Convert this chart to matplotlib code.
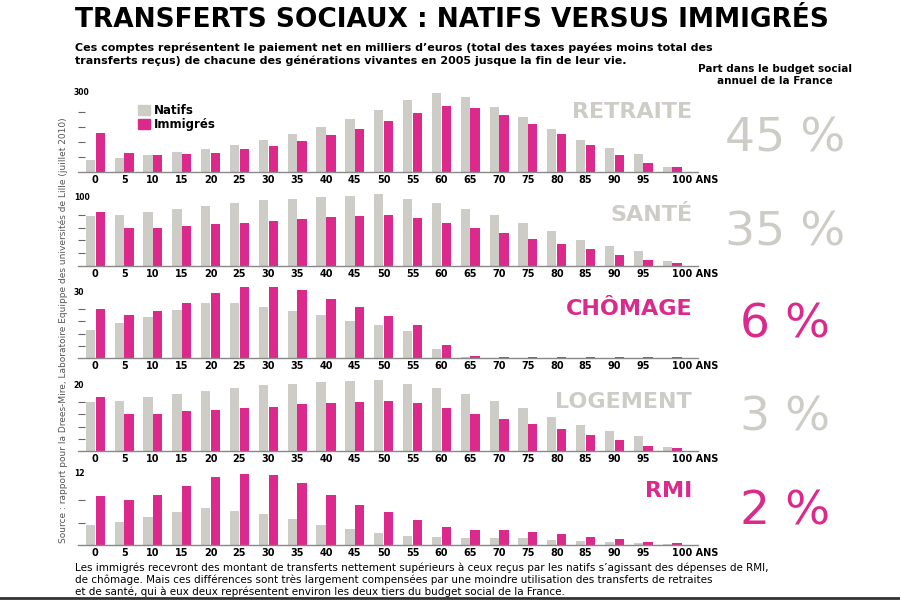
import matplotlib
matplotlib.use("Agg")
import matplotlib.pyplot as plt
from matplotlib.patches import Patch
import numpy as np

ages = [str(a) for a in range(0, 100, 5)] + ["100 ANS"]
panels = ["RETRAITE", "SANTÉ", "CHÔMAGE", "LOGEMENT", "RMI"]
top_labels = [300, 100, 30, 20, 12]
shares = ["45 %", "35 %", "6 %", "3 %", "2 %"]
label_pink = [False, False, True, False, True]

retraite_nat = [47,56,67,80,93,109,129,151,179,211,247,287,317,299,261,220,172,128,95,71,20]
retraite_imm = [155,75,69,72,76,91,105,124,147,172,203,235,265,257,229,192,152,109,69,36,20]
sante_nat = [78,79,84,89,94,98,103,105,108,110,112,105,98,89,79,67,54,41,32,24,8]
sante_imm = [84,59,59,62,65,67,70,73,76,78,79,75,67,59,51,42,35,26,17,9,5]
chom_nat = [14,17,20,23.5,27,27,25,23,21,18,16,13.5,4.4,0.6,0.2,0.2,0.2,0.2,0.2,0.2,0.2]
chom_imm = [24,21,23,27,32,35,35,33.5,29,25,20.5,16,6.3,0.8,0.3,0.3,0.3,0.3,0.3,0.3,0.3]
loge_nat = [16,16.5,17.6,18.6,19.7,20.7,21.5,22,22.6,23,23.3,22,20.7,18.6,16.5,14,11.1,8.5,6.6,4.9,1.3]
loge_imm = [17.6,12.2,12.2,13,13.5,14,14.5,15.3,15.8,16.2,16.5,15.6,14,12.2,10.6,8.8,7.3,5.2,3.5,1.7,1.0]
rmi_nat = [3.6,4.2,5.0,5.9,6.7,6.1,5.5,4.7,3.6,2.8,2.1,1.6,1.4,1.25,1.25,1.2,0.9,0.66,0.54,0.4,0.2]
rmi_imm = [8.8,8.0,9.0,10.6,12.1,12.7,12.5,11.1,9.0,7.2,6.0,4.4,3.3,2.7,2.6,2.4,2.0,1.5,1.0,0.5,0.36]
series = [(retraite_nat, retraite_imm), (sante_nat, sante_imm), (chom_nat, chom_imm),
          (loge_nat, loge_imm), (rmi_nat, rmi_imm)]

GREY = "#cdccc6"
PINK = "#db2a8c"
W, H = 900, 600
fig = plt.figure(figsize=(9, 6), dpi=100)
fig.patch.set_facecolor("white")

geo = [(172, 75), (266, 64), (358, 61), (451, 61), (545, 67)]
x = np.arange(len(ages))
for k, (base, hpx) in enumerate(geo):
    ax = fig.add_axes([78 / W, 1 - base / H, (698 - 78) / W, hpx / H])
    top = top_labels[k]
    nat, imm = series[k]
    ax.bar(x - 0.17, nat, width=0.32, color=GREY, clip_on=False)
    ax.bar(x + 0.17, imm, width=0.32, color=PINK, clip_on=False)
    ax.set_xlim(-0.6, 20.9)
    ax.set_ylim(0, top)
    for s in ["top", "right", "left"]:
        ax.spines[s].set_visible(False)
    ax.spines["bottom"].set_color("#888888")
    ax.spines["bottom"].set_linewidth(1)
    ax.set_xticks(x)
    labs = ax.set_xticklabels(ages, fontsize=7, fontweight="bold")
    labs[-1].set_horizontalalignment("left")
    labs[-1].set_x(19.72)
    ax.tick_params(axis="x", length=0, pad=2)
    nt = 3 if k == 4 else 5
    ax.set_yticks(np.linspace(0, top, nt + 1)[1:-1])
    ax.set_yticklabels([])
    ax.tick_params(axis="y", length=5, width=0.8, color="#666666", direction="in", pad=0)
    ax.text(-0.75, top, str(top), fontsize=5.5, fontweight="bold", ha="left", va="bottom")
    col = PINK if label_pink[k] else GREY
    ax.text(20.7, top * 0.8, panels[k], fontsize=16, fontweight="bold", color=col,
            ha="right", va="center")
    fig.text(785 / W, 1 - (base - 33) / H, shares[k], fontsize=34, color=col,
             ha="center", va="center")
    if k == 0:
        ax.legend(handles=[Patch(color=GREY, label="Natifs"), Patch(color=PINK, label="Immigrés")],
                  loc="upper left", bbox_to_anchor=(0.08, 1.05), frameon=False,
                  prop={"size": 8.5, "weight": "bold"}, handlelength=1, handleheight=1,
                  handletextpad=0.3, labelspacing=0.1)

fig.text(75 / W, 1 - 20 / H, "TRANSFERTS SOCIAUX : NATIFS VERSUS IMMIGRÉS", fontsize=19,
         fontweight="bold", va="center")
fig.text(75 / W, 1 - 54 / H,
         "Ces comptes représentent le paiement net en milliers d’euros (total des taxes payées moins total des\n"
         "transferts reçus) de chacune des générations vivantes en 2005 jusque la fin de leur vie.",
         fontsize=8, fontweight="bold", va="center", linespacing=1.3)
fig.text(775 / W, 1 - 75 / H, "Part dans le budget social\nannuel de la France", fontsize=7.5,
         fontweight="bold", ha="center", va="center", linespacing=1.3)
fig.text(63 / W, 1 - 330 / H,
         "Source : rapport pour la Drees-Mire, Laboratoire Equippe des universités de Lille (juillet 2010)",
         fontsize=6.5, color="#555555", rotation=90, ha="center", va="center")
fig.text(75 / W, 1 - 580 / H,
         "Les immigrés recevront des montant de transferts nettement supérieurs à ceux reçus par les natifs s’agissant des dépenses de RMI,\n"
         "de chômage. Mais ces différences sont très largement compensées par une moindre utilisation des transferts de retraites\n"
         "et de santé, qui à eux deux représentent environ les deux tiers du budget social de la France.",
         fontsize=7.5, va="center", linespacing=1.15)
fig.add_artist(plt.Line2D([0, 1], [1 - 598 / H] * 2, color="#333333", lw=2, transform=fig.transFigure))
fig.savefig("out.png", dpi=100)
